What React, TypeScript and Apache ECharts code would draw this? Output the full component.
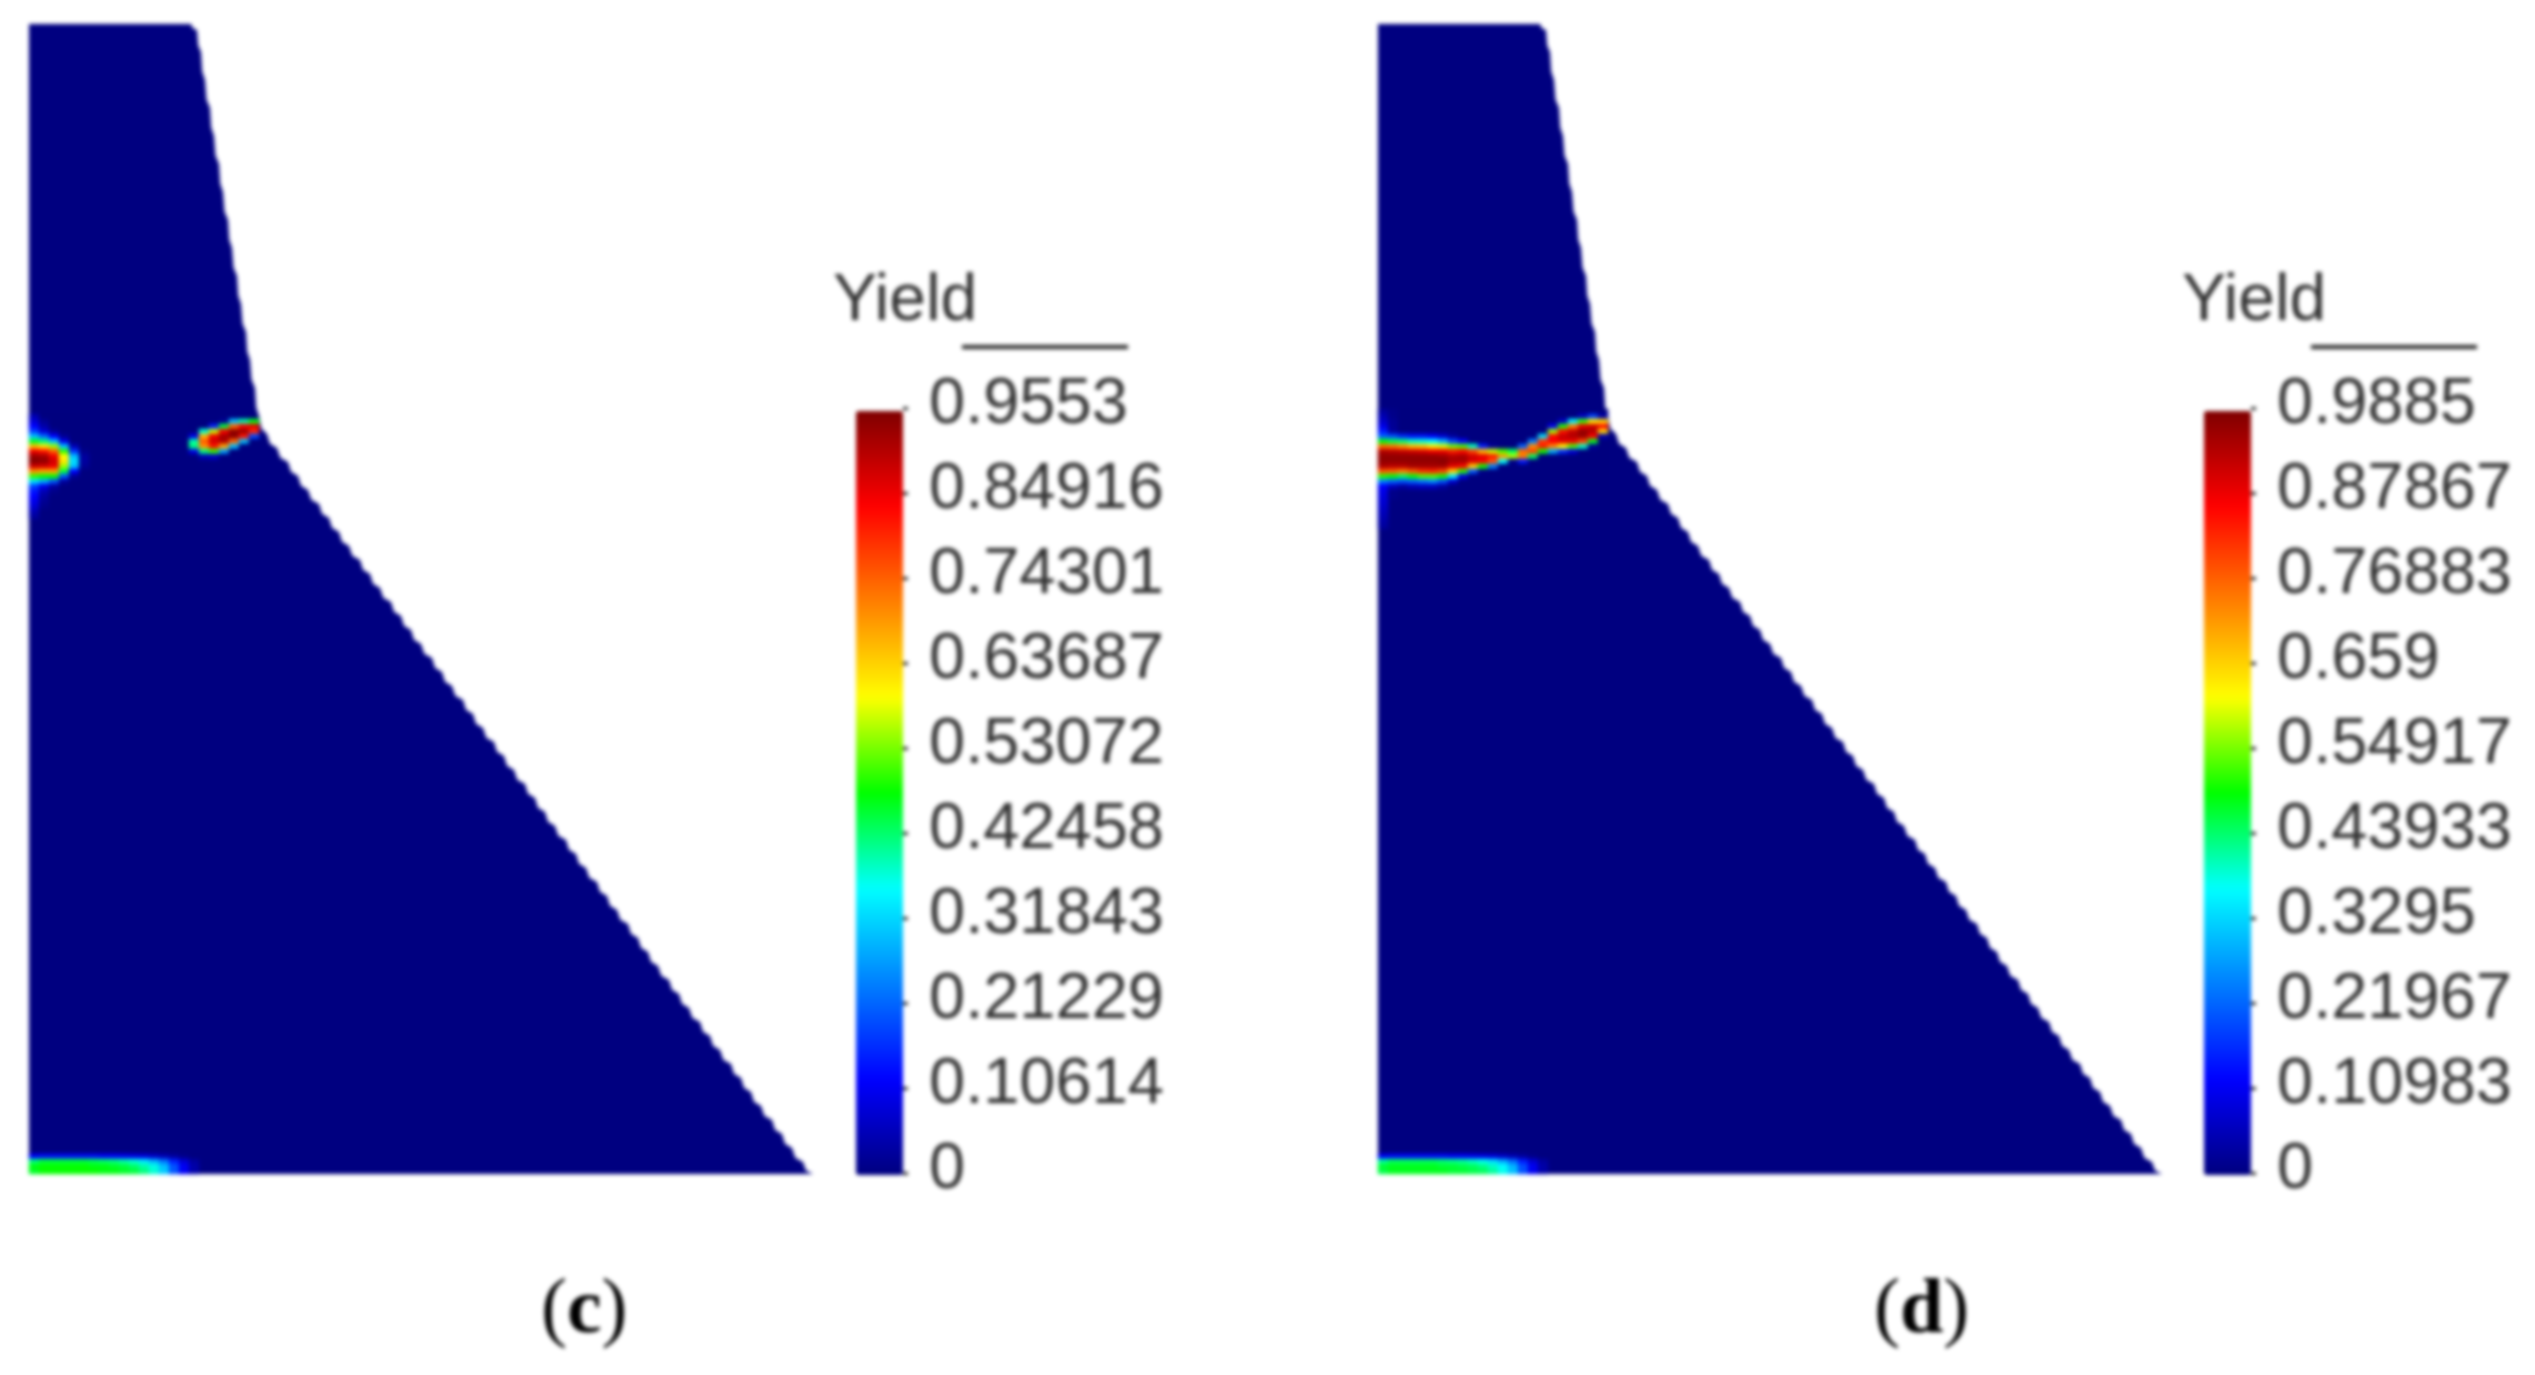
import React, { useEffect, useRef } from 'react'
import * as echarts from 'echarts'

const columns = Array.from({ length: 79 }, (_, i) => String(i))
const rows = Array.from({ length: 230 }, (_, i) => String(i))

// right edge of the section, top to bottom, model units
const edgeX = [
	16.2, 16.8, 17.2, 17.6, 18.1, 18.5, 19.0, 19.4, 19.9, 20.3, 20.8, 21.2, 21.7, 22.1, 22.6, 23.0,
	23.8, 24.8, 25.9, 26.9, 27.9, 29.0, 30.0, 31.0, 32.0, 33.1, 34.1, 35.1, 36.2, 37.2, 38.2, 39.2,
	40.3, 41.3, 42.3, 43.4, 44.4, 45.4, 46.5, 47.5, 48.5, 49.6, 50.6, 51.6, 52.6, 53.7, 54.7, 55.7,
	56.8, 57.8, 58.8, 59.9, 60.9, 61.9, 62.9, 64.0, 65.0, 66.0, 67.1, 68.1, 69.1, 70.2, 71.2, 72.2,
	73.2, 74.3, 75.3, 76.3, 77.4, 78.4,
]
const edgeY = [
	115, 114.4, 112.2, 109.4, 106.6, 103.8, 101, 98.2, 95.4, 92.6, 89.8, 87, 84.2, 81.4, 78.6, 75.8,
	74.0, 72.6, 71.2, 69.8, 68.4, 67.0, 65.6, 64.2, 62.8, 61.4, 60.0, 58.6, 57.2, 55.8, 54.4, 53.0,
	51.6, 50.2, 48.8, 47.4, 46.0, 44.6, 43.2, 41.8, 40.4, 39.0, 37.6, 36.2, 34.8, 33.4, 32.0, 30.6,
	29.2, 27.8, 26.4, 25.0, 23.6, 22.2, 20.8, 19.4, 18.0, 16.6, 15.2, 13.8, 12.4, 11.0, 9.6, 8.2,
	6.8, 5.4, 4.0, 2.6, 1.2, 0,
]

const labelsC = ['0', '0.10614', '0.21229', '0.31843', '0.42458', '0.53072', '0.63687', '0.74301', '0.84916', '0.9553']
const labelsD = ['0', '0.10983', '0.21967', '0.3295', '0.43933', '0.54917', '0.659', '0.76883', '0.87867', '0.9885']

const jet = ['#00007f', '#0000ff', '#007fff', '#00ffff', '#00ff00', '#ffff00', '#ff7f00', '#ff0000', '#7f0000']

// yield, rows top to bottom
const blobLeftC = [
	[0.05, 0, 0, 0, 0, 0],
	[0.08, 0.02, 0, 0, 0, 0],
	[0.12, 0.04, 0, 0, 0, 0],
	[0.18, 0.08, 0.02, 0, 0, 0],
	[0.3, 0.22, 0.12, 0.02, 0, 0],
	[0.46, 0.42, 0.3, 0.1, 0, 0],
	[0.66, 0.62, 0.55, 0.3, 0.05, 0],
	[0.85, 0.82, 0.75, 0.5, 0.17, 0.01],
	[0.93, 0.92, 0.85, 0.6, 0.3, 0.03],
	[0.95, 0.94, 0.88, 0.62, 0.33, 0.03],
	[0.88, 0.87, 0.85, 0.55, 0.3, 0.02],
	[0.7, 0.68, 0.68, 0.45, 0.12, 0],
	[0.5, 0.48, 0.48, 0.2, 0.02, 0],
	[0.33, 0.28, 0.2, 0.03, 0, 0],
	[0.18, 0.1, 0.03, 0, 0, 0],
	[0.14, 0.05, 0.01, 0, 0, 0],
	[0.12, 0.03, 0, 0, 0, 0],
	[0.1, 0.02, 0, 0, 0, 0],
	[0.08, 0.01, 0, 0, 0, 0],
	[0.05, 0, 0, 0, 0, 0],
	[0.03, 0, 0, 0, 0, 0],
]
const blobRightC = [
	[0, 0, 0, 0.02, 0.3, 0.4, 0.47],
	[0, 0, 0.15, 0.45, 0.74, 0.84, 0.86],
	[0, 0.38, 0.57, 0.84, 0.94, 0.93, 0.8],
	[0.1, 0.67, 0.85, 0.92, 0.94, 0.82, 0.19],
	[0.4, 0.75, 0.88, 0.91, 0.74, 0.3, 0],
	[0.42, 0.7, 0.82, 0.68, 0.3, 0, 0],
	[0.1, 0.42, 0.5, 0.27, 0, 0, 0],
	[0, 0.05, 0.07, 0, 0, 0, 0],
]
const baseStrip = [
	[0.12, 0.13, 0.13, 0.13, 0.13, 0.13, 0.13, 0.12, 0.12, 0.11, 0.1, 0.09, 0.07, 0.05, 0.03, 0.01, 0],
	[0.42, 0.45, 0.45, 0.45, 0.45, 0.45, 0.44, 0.43, 0.42, 0.4, 0.38, 0.34, 0.29, 0.23, 0.15, 0.08, 0.03],
	[0.47, 0.48, 0.48, 0.48, 0.48, 0.48, 0.47, 0.47, 0.46, 0.45, 0.43, 0.4, 0.37, 0.3, 0.2, 0.11, 0.04],
	[0.46, 0.48, 0.48, 0.48, 0.48, 0.48, 0.48, 0.47, 0.47, 0.46, 0.45, 0.42, 0.38, 0.31, 0.2, 0.11, 0.04],
]
const bandD = [
	[0.03, 0.01, 0, 0, 0, 0, 0, 0, 0, 0, 0, 0, 0, 0, 0, 0, 0, 0, 0, 0, 0, 0, 0],
	[0.05, 0.01, 0, 0, 0, 0, 0, 0, 0, 0, 0, 0, 0, 0, 0, 0, 0, 0, 0, 0, 0.07, 0.19, 0.04],
	[0.07, 0.02, 0, 0, 0, 0, 0, 0, 0, 0, 0, 0, 0, 0, 0, 0, 0, 0, 0.07, 0.36, 0.52, 0.64, 0.66],
	[0.1, 0.02, 0, 0, 0, 0, 0, 0, 0, 0, 0, 0, 0, 0, 0, 0, 0, 0.11, 0.51, 0.74, 0.88, 0.91, 0.85],
	[0.15, 0.03, 0, 0, 0, 0, 0, 0, 0, 0, 0, 0, 0, 0, 0, 0, 0, 0.57, 0.85, 0.92, 0.97, 0.94, 0.66],
	[0.22, 0.2, 0.16, 0.14, 0.14, 0.12, 0.08, 0.03, 0, 0, 0, 0, 0, 0, 0, 0, 0.34, 0.86, 0.92, 0.94, 0.96, 0.87, 0.04],
	[0.49, 0.46, 0.44, 0.4, 0.39, 0.37, 0.3, 0.19, 0.12, 0, 0, 0, 0, 0, 0, 0.25, 0.81, 0.87, 0.89, 0.88, 0.8, 0.48, 0],
	[0.76, 0.75, 0.72, 0.68, 0.67, 0.63, 0.6, 0.55, 0.53, 0.4, 0.15, 0.02, 0, 0, 0.22, 0.73, 0.84, 0.73, 0.62, 0.53, 0.4, 0.02, 0],
	[0.94, 0.93, 0.92, 0.91, 0.9, 0.88, 0.88, 0.84, 0.86, 0.8, 0.68, 0.59, 0.53, 0.45, 0.76, 0.8, 0.5, 0.29, 0.17, 0.09, 0, 0, 0],
	[0.97, 0.97, 0.97, 0.97, 0.97, 0.97, 0.96, 0.94, 0.95, 0.91, 0.89, 0.84, 0.71, 0.58, 0.74, 0.45, 0, 0, 0, 0, 0, 0, 0],
	[0.97, 0.97, 0.97, 0.97, 0.97, 0.97, 0.98, 0.95, 0.95, 0.9, 0.87, 0.78, 0.37, 0.01, 0.15, 0, 0, 0, 0, 0, 0, 0, 0],
	[0.94, 0.93, 0.93, 0.95, 0.95, 0.95, 0.95, 0.89, 0.86, 0.66, 0.5, 0.25, 0, 0, 0, 0, 0, 0, 0, 0, 0, 0, 0],
	[0.78, 0.77, 0.74, 0.78, 0.82, 0.83, 0.8, 0.66, 0.51, 0.21, 0.01, 0, 0, 0, 0, 0, 0, 0, 0, 0, 0, 0, 0],
	[0.51, 0.49, 0.45, 0.49, 0.53, 0.53, 0.5, 0.35, 0.1, 0, 0, 0, 0, 0, 0, 0, 0, 0, 0, 0, 0, 0, 0],
	[0.25, 0.22, 0.2, 0.22, 0.24, 0.26, 0.2, 0.08, 0, 0, 0, 0, 0, 0, 0, 0, 0, 0, 0, 0, 0, 0, 0],
	[0.12, 0.06, 0.03, 0.05, 0.06, 0.06, 0.03, 0, 0, 0, 0, 0, 0, 0, 0, 0, 0, 0, 0, 0, 0, 0, 0],
	[0.1, 0.01],
	[0.09, 0.01],
	[0.08],
	[0.07],
	[0.06],
	[0.05],
	[0.04],
	[0.03],
]

const toCells = (table: number[][], firstCol: number, firstRow: number) =>
	table.flatMap((line, r) => line.map((v, c) => [firstCol + c, firstRow + r, v]))

const cellsC = [
	...toCells(blobLeftC, 0, 78),
	...toCells(blobRightC, 16, 79),
	...toCells(baseStrip, 0, 226),
]
const cellsD = [...toCells(bandD, 0, 77), ...toCells(baseStrip, 0, 226)]

const sectionOutline = (params: any, api: any) => {
	const points = [api.coord([0, 115])]
	edgeX.forEach((x, i) => {
		points.push(api.coord([x, edgeY[i]]))
		// chamfered step between two edge points, the mesh shows small bumps only
		if (i < edgeX.length - 1) {
			points.push(api.coord([x + (edgeX[i + 1] - x) * 0.3, edgeY[i] + (edgeY[i + 1] - edgeY[i]) * 0.7]))
		}
	})
	points.push(api.coord([0, 0]))
	return { type: 'polygon', shape: { points }, style: { fill: '#000080' } }
}

const heatGrid = (left: number) => ({ left, top: 24, width: 790, height: 1150 })
const barGrid = (left: number) => ({ left, top: 408, width: 47, height: 765 })

const hiddenCat = (gridIndex: number, data: string[], inverse = false) => ({
	type: 'category',
	gridIndex,
	data,
	inverse,
	show: false,
})
const hiddenVal = (gridIndex: number, max: number) => ({
	type: 'value',
	gridIndex,
	min: 0,
	max,
	show: false,
})

const barAxis = (gridIndex: number, data: string[]) => ({
	type: 'category',
	gridIndex,
	data,
	position: 'right',
	boundaryGap: false,
	axisLine: { show: false, onZero: false },
	axisTick: { show: true, length: 5, lineStyle: { color: '#222222', width: 3 } },
	axisLabel: {
		interval: 0,
		margin: 26,
		fontFamily: 'Liberation Sans',
		fontSize: 65,
		color: '#333333',
		verticalAlign: 'bottom',
		lineHeight: 15,
	},
})

const heatSeries = (xAxisIndex: number, yAxisIndex: number, data: number[][]) => ({
	type: 'heatmap',
	xAxisIndex,
	yAxisIndex,
	data,
	silent: true,
	z: 3,
})
const sectionSeries = (xAxisIndex: number, yAxisIndex: number) => ({
	type: 'custom',
	coordinateSystem: 'cartesian2d',
	xAxisIndex,
	yAxisIndex,
	data: [[0, 0]],
	renderItem: sectionOutline,
	silent: true,
	z: 2,
})
const colorBar = (seriesIndex: number, left: number, max: number) => ({
	type: 'continuous',
	seriesIndex,
	min: 0,
	max,
	left,
	top: 411,
	itemWidth: 47,
	itemHeight: 764,
	padding: 0,
	calculable: false,
	hoverLink: false,
	text: null,
	inRange: { color: jet },
})

const yieldTitle = (left: number) => ({
	text: 'Yield',
	left,
	top: 264,
	padding: 0,
	textStyle: { fontFamily: 'Liberation Sans', fontSize: 66, fontWeight: 'normal', color: '#333333' },
})
const caption = (letter: string, left: number) => ({
	text: `{p|(}{b|${letter}}{p|)}`,
	left,
	top: 1266,
	padding: 0,
	textStyle: {
		rich: {
			p: { fontFamily: 'Liberation Serif', fontSize: 78, fontWeight: 'normal', color: '#000000' },
			b: { fontFamily: 'Liberation Serif', fontSize: 78, fontWeight: 'bold', color: '#000000' },
		},
	},
})
const rule = (x: number) => ({
	type: 'line',
	shape: { x1: x, y1: 347, x2: x + 166, y2: 347 },
	style: { stroke: '#222222', lineWidth: 4 },
})

const App = () => {
	const chartRef = useRef<HTMLDivElement>(null)

	useEffect(() => {
		const chart = echarts.init(chartRef.current, null, { renderer: 'svg' })

		chart.setOption({
			animation: false,
			backgroundColor: '#ffffff',
			title: [yieldTitle(833), yieldTitle(2182), caption('c', 541), caption('d', 1874)],
			graphic: [rule(962), rule(2311)],
			grid: [heatGrid(29), heatGrid(1378), barGrid(856), barGrid(2204)],
			xAxis: [
				hiddenCat(0, columns),
				hiddenVal(0, 79),
				hiddenCat(1, columns),
				hiddenVal(1, 79),
				hiddenVal(2, 1),
				hiddenVal(3, 1),
			],
			yAxis: [
				hiddenCat(0, rows, true),
				hiddenVal(0, 115),
				hiddenCat(1, rows, true),
				hiddenVal(1, 115),
				barAxis(2, labelsC),
				barAxis(3, labelsD),
			],
			visualMap: [colorBar(1, 856, 0.9553), colorBar(3, 2204, 0.9885)],
			series: [
				sectionSeries(1, 1),
				heatSeries(0, 0, cellsC),
				sectionSeries(3, 3),
				heatSeries(2, 2, cellsD),
			],
		})

		return () => {
			chart.dispose()
		}
	}, [])

	return (
		<div
			ref={chartRef}
			style={{ position: 'fixed', left: 0, top: 0, width: 2535, height: 1375, filter: 'blur(2px)' }}
		/>
	)
}

export default App
